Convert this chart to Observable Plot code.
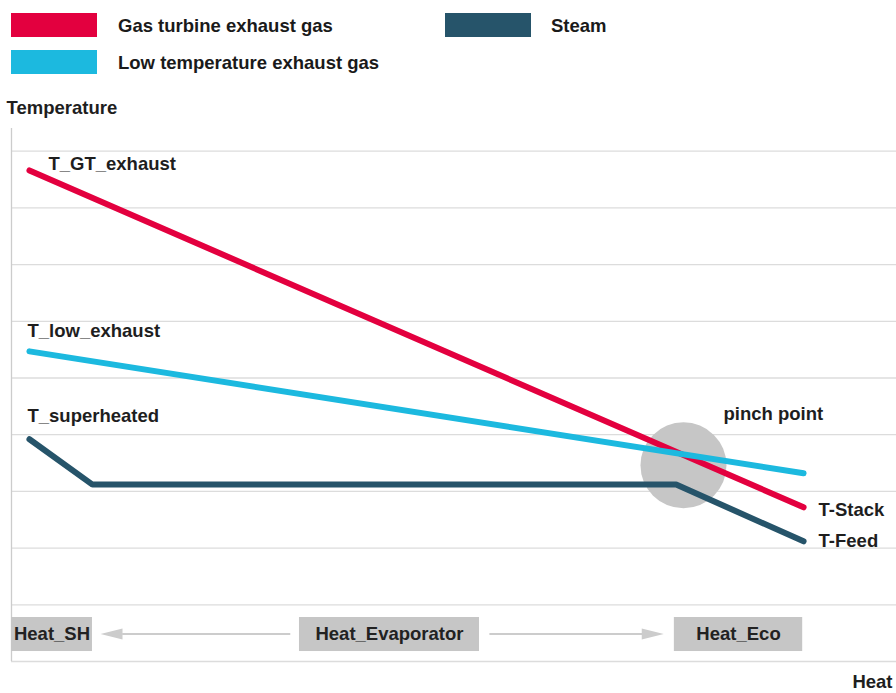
<!DOCTYPE html>
<html>
<head>
<meta charset="utf-8">
<script src="https://cdn.jsdelivr.net/npm/d3@7"></script>
<script src="https://cdn.jsdelivr.net/npm/@observablehq/plot@0.6"></script>
<style>
  html, body { margin: 0; padding: 0; background: #fff; }
  body { width: 896px; height: 693px; overflow: hidden; font-family: "Liberation Sans", Arial, Helvetica, sans-serif; }
  #legend { position: relative; height: 90px; }
  .sw { position: absolute; width: 86px; height: 24px; }
  .lt { position: absolute; font-weight: bold; font-size: 18.5px; color: #1a1a1a; line-height: 24px; white-space: nowrap; }
  #chart svg { display: block; }
</style>
</head>
<body>
<div id="legend"></div>
<div id="chart"></div>
<script>
// ---- data ----
const seriesNames = ["Gas turbine exhaust gas", "Low temperature exhaust gas", "Steam"];
const seriesColors = ["#e3003f", "#1cb9df", "#26546a"];

const gtHeat = [2.03, 89.5];
const gtTemp = [8.66, 2.72];
const lowHeat = [2.03, 89.5];
const lowTemp = [5.47, 3.32];
const steamHeat = [2.03, 9.15, 75.1, 89.5];
const steamTemp = [3.92, 3.12, 3.12, 2.12];

const startLabels = ["T_GT_exhaust", "T_low_exhaust", "T_superheated"];
const endLabels = ["T-Stack", "T-Feed"];

const pinchHeat = 75.93;
const pinchTemp = 3.46;
const pinchLabel = "pinch point";

const regionNames = ["Heat_SH", "Heat_Evaporator", "Heat_Eco"];
const regionStart = [0, 32.54, 74.9];
const regionEnd = [9.15, 52.88, 89.4];
const regionLow = 0.176;
const regionHigh = 0.776;

const arrowTemp = 0.485;
const arrowFrom = [31.5, 54.0];
const arrowTo = [12.5, 71.3];
const arrowTip = [10.06, 73.7];
const arrowDir = [-90, 90];

const gridTicks = [0, 1, 2, 3, 4, 5, 6, 7, 8, 9];
const yLabel = "Temperature";
const xLabel = "Heat";

// ---- legend ----
const legend = document.getElementById("legend");
const legendPos = [[11, 13, 118], [11, 50, 118], [445, 13, 551]];
seriesNames.forEach((name, i) => {
  const [sx, sy, tx] = legendPos[i];
  const sw = document.createElement("div");
  sw.className = "sw";
  sw.style.left = sx + "px"; sw.style.top = sy + "px"; sw.style.background = seriesColors[i];
  legend.appendChild(sw);
  const t = document.createElement("div");
  t.className = "lt";
  t.style.left = tx + "px"; t.style.top = (sy + 1) + "px";
  t.textContent = name;
  legend.appendChild(t);
});

// ---- tables ----
const rows = [
  ...gtHeat.map((h, i) => ({series: seriesNames[0], heat: h, temp: gtTemp[i]})),
  ...lowHeat.map((h, i) => ({series: seriesNames[1], heat: h, temp: lowTemp[i]})),
  ...steamHeat.map((h, i) => ({series: seriesNames[2], heat: h, temp: steamTemp[i]}))
];
const gtStart = [{label: startLabels[0], heat: gtHeat[0], temp: gtTemp[0]}];
const lowStart = [{label: startLabels[1], heat: lowHeat[0], temp: lowTemp[0]}];
const steamStart = [{label: startLabels[2], heat: steamHeat[0], temp: steamTemp[0]}];
const gtEnd = [{label: endLabels[0], heat: gtHeat[gtHeat.length - 1], temp: gtTemp[gtTemp.length - 1]}];
const steamEnd = [{label: endLabels[1], heat: steamHeat[steamHeat.length - 1], temp: steamTemp[steamTemp.length - 1]}];
const regions = regionNames.map((n, i) => ({name: n, x1: regionStart[i], x2: regionEnd[i]}));
const arrows = arrowFrom.map((f, i) => ({from: f, to: arrowTo[i], tip: arrowTip[i], dir: arrowDir[i]}));

const textStyle = {fontWeight: "bold", fontSize: 18.5, fill: "#1e1e1e", lineAnchor: "middle", textAnchor: "start"};
const triangle = {draw(ctx, l, r) { ctx.moveTo(0, -l); ctx.lineTo(r, 0); ctx.lineTo(-r, 0); ctx.closePath(); }};

const chart = Plot.plot({
  width: 896,
  height: 603,
  marginLeft: 11,
  marginRight: 0,
  marginTop: 38,
  marginBottom: 32,
  style: {fontFamily: "'Liberation Sans', Arial, Helvetica, sans-serif", background: "#fff", overflow: "visible"},
  x: {domain: [0, 100], axis: null},
  y: {domain: [0, 9.4], axis: null},
  color: {domain: seriesNames, range: seriesColors},
  marks: [
    Plot.ruleY(gridTicks, {stroke: "#dcdcdc", strokeWidth: 1.3}),
    Plot.ruleX([0], {stroke: "#cccccc", strokeWidth: 1.3}),
    Plot.rect(regions, {x1: "x1", x2: "x2", y1: regionLow, y2: regionHigh, fill: "#c6c6c6"}),
    Plot.text(regions, {x: d => (d.x1 + d.x2) / 2, y: (regionLow + regionHigh) / 2, text: "name", fontWeight: "bold", fontSize: 18.5, fill: "#222", textAnchor: "middle", lineAnchor: "middle"}),
    Plot.link(arrows, {x1: "from", x2: "to", y1: arrowTemp, y2: arrowTemp, stroke: "#cccccc", strokeWidth: 2}),
    Plot.vector(arrows, {x: "tip", y: arrowTemp, rotate: "dir", length: 22, r: 5.5, anchor: "end", shape: triangle, fill: "#cccccc", stroke: "none"}),
    Plot.dot([0], {x: () => pinchHeat, y: () => pinchTemp, r: 43, fill: "#c6c6c6"}),
    Plot.line(rows, {x: "heat", y: "temp", z: "series", stroke: "series", strokeWidth: 6, strokeLinecap: "round", strokeLinejoin: "miter"}),
    Plot.text(gtStart, {x: "heat", y: "temp", text: "label", dx: 19, dy: -6, ...textStyle}),
    Plot.text(lowStart, {x: "heat", y: "temp", text: "label", dx: -2, dy: -20, ...textStyle}),
    Plot.text(steamStart, {x: "heat", y: "temp", text: "label", dx: -2, dy: -23, ...textStyle}),
    Plot.text(gtEnd, {x: "heat", y: "temp", text: "label", dx: 15, dy: 3, ...textStyle}),
    Plot.text(steamEnd, {x: "heat", y: "temp", text: "label", dx: 15, dy: 0, ...textStyle}),
    Plot.text([pinchLabel], {x: () => pinchHeat, y: () => pinchTemp, text: d => d, dx: 40, dy: -51, ...textStyle}),
    Plot.text([yLabel], {frameAnchor: "top-left", text: d => d, dx: -5, dy: -20, ...textStyle}),
    Plot.text([xLabel], {frameAnchor: "bottom-right", text: d => d, dx: -4, dy: 21, ...textStyle, textAnchor: "end"})
  ]
});
document.getElementById("chart").appendChild(chart);
</script>
</body>
</html>
